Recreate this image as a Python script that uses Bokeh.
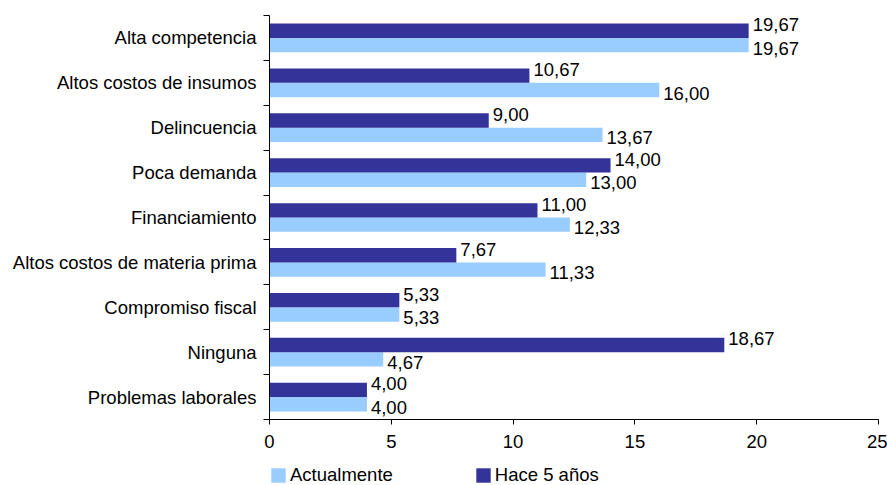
from bokeh.plotting import figure
from bokeh.layouts import column
from bokeh.models import (ColumnDataSource, Range1d, LinearAxis, FixedTicker,
                          Legend, LegendItem)
from bokeh.core.properties import value
from bokeh.embed import file_html
from bokeh.resources import INLINE

# Data (top to bottom as shown)
categories = ["Alta competencia", "Altos costos de insumos", "Delincuencia",
              "Poca demanda", "Financiamiento", "Altos costos de materia prima",
              "Compromiso fiscal", "Ninguna", "Problemas laborales"]
actualmente = [19.67, 16.00, 13.67, 13.00, 12.33, 11.33, 5.33, 4.67, 4.00]
hace_5_anos = [19.67, 10.67, 9.00, 14.00, 11.00, 7.67, 5.33, 18.67, 4.00]
series_names = ["Actualmente", "Hace 5 años"]
x_ticks = [0, 5, 10, 15, 20, 25]

FONT = "Liberation Sans"
FS = "18.5px"
DARK = "#333399"
LIGHT = "#99CCFF"

n = len(categories)
centers = [n - 1 - i + 0.5 for i in range(n)]
bar_h = 0.32

fmt = lambda v: f"{v:.2f}".replace(".", ",")

src = ColumnDataSource(dict(
    cat=categories,
    center=centers,
    y_dark=[c + bar_h / 2 for c in centers],
    y_light=[c - bar_h / 2 for c in centers],
    act=actualmente,
    hace=hace_5_anos,
    act_lbl=[fmt(v) for v in actualmente],
    hace_lbl=[fmt(v) for v in hace_5_anos],
))

p = figure(width=887, height=458, output_backend="svg", toolbar_location=None,
           x_range=Range1d(0, 25), y_range=Range1d(0, n),
           y_axis_location=None, x_axis_location=None,
           min_border_left=269, min_border_right=9, min_border_top=15,
           min_border_bottom=39)
p.outline_line_color = None
p.xgrid.visible = False
p.ygrid.visible = False
p.background_fill_color = "white"
p.border_fill_color = "white"

p.hbar(y="y_light", left=0, right="act", height=bar_h, source=src,
       fill_color=LIGHT, line_color=None)
p.hbar(y="y_dark", left=0, right="hace", height=bar_h, source=src,
       fill_color=DARK, line_color=None)

p.text(x="hace", y="y_dark", text="hace_lbl", source=src, x_offset=4, y_offset=-6,
       text_baseline="middle", text_align="left", text_font=value(FONT),
       text_font_size=FS, text_color="black")
p.text(x="act", y="y_light", text="act_lbl", source=src, x_offset=4, y_offset=3,
       text_baseline="middle", text_align="left", text_font=value(FONT),
       text_font_size=FS, text_color="black")

# X axis
xaxis = LinearAxis(ticker=FixedTicker(ticks=x_ticks, minor_ticks=[]))
xaxis.axis_line_color = "black"
xaxis.major_tick_line_color = "black"
xaxis.major_tick_out = 5
xaxis.major_tick_in = 0
xaxis.minor_tick_line_color = None
xaxis.major_label_standoff = 10
xaxis.major_label_text_font = FONT
xaxis.major_label_text_font_size = FS
xaxis.major_label_text_color = "black"
p.add_layout(xaxis, "below")

# Y axis: tick marks at category boundaries
ytick_axis = LinearAxis(ticker=FixedTicker(ticks=list(range(n + 1)), minor_ticks=[]))
ytick_axis.axis_line_color = "black"
ytick_axis.major_tick_line_color = "black"
ytick_axis.major_tick_out = 6
ytick_axis.major_tick_in = 0
ytick_axis.minor_tick_line_color = None
ytick_axis.major_label_text_font_size = "0px"
ytick_axis.major_label_standoff = 0
ytick_axis.major_label_overrides = {i: "" for i in range(n + 1)}
p.add_layout(ytick_axis, "left")

# Y axis: category labels at centers
ylab_axis = LinearAxis(ticker=FixedTicker(ticks=centers, minor_ticks=[]))
ylab_axis.axis_line_color = None
ylab_axis.major_tick_line_color = None
ylab_axis.minor_tick_line_color = None
ylab_axis.major_tick_out = 0
ylab_axis.major_tick_in = 0
ylab_axis.major_label_standoff = 7
ylab_axis.major_label_overrides = {c: cat for c, cat in zip(centers, categories)}
ylab_axis.major_label_text_font = FONT
ylab_axis.major_label_text_font_size = FS
ylab_axis.major_label_text_color = "black"
p.add_layout(ylab_axis, "left")

# Legend strip below the chart (proxy renderers lie outside its visible range)
pl = figure(width=887, height=28, output_backend="svg", toolbar_location=None,
            x_range=Range1d(0, 25), y_range=Range1d(100, 101),
            x_axis_location=None, y_axis_location=None, min_border=0)
pl.outline_line_color = None
pl.xgrid.visible = False
pl.ygrid.visible = False
lr_light = pl.hbar(y="y_light", left=0, right="act", height=bar_h, source=src,
                   fill_color=LIGHT, line_color=None)
lr_dark = pl.hbar(y="y_dark", left=0, right="hace", height=bar_h, source=src,
                  fill_color=DARK, line_color=None)

legend = Legend(items=[LegendItem(label=series_names[0], renderers=[lr_light]),
                       LegendItem(label=series_names[1], renderers=[lr_dark])],
                orientation="horizontal", location=(0, 0))
legend.border_line_color = None
legend.background_fill_alpha = 0
legend.padding = 0
legend.margin = 0
legend.spacing = 81
legend.glyph_width = 18
legend.glyph_height = 18
legend.label_standoff = 3
legend.label_height = 14
legend.label_text_font = FONT
legend.label_text_font_size = FS
legend.label_text_color = "black"
pl.add_layout(legend)

layout = column(p, pl, spacing=0)
open("out.html", "w").write(file_html(layout, INLINE))
